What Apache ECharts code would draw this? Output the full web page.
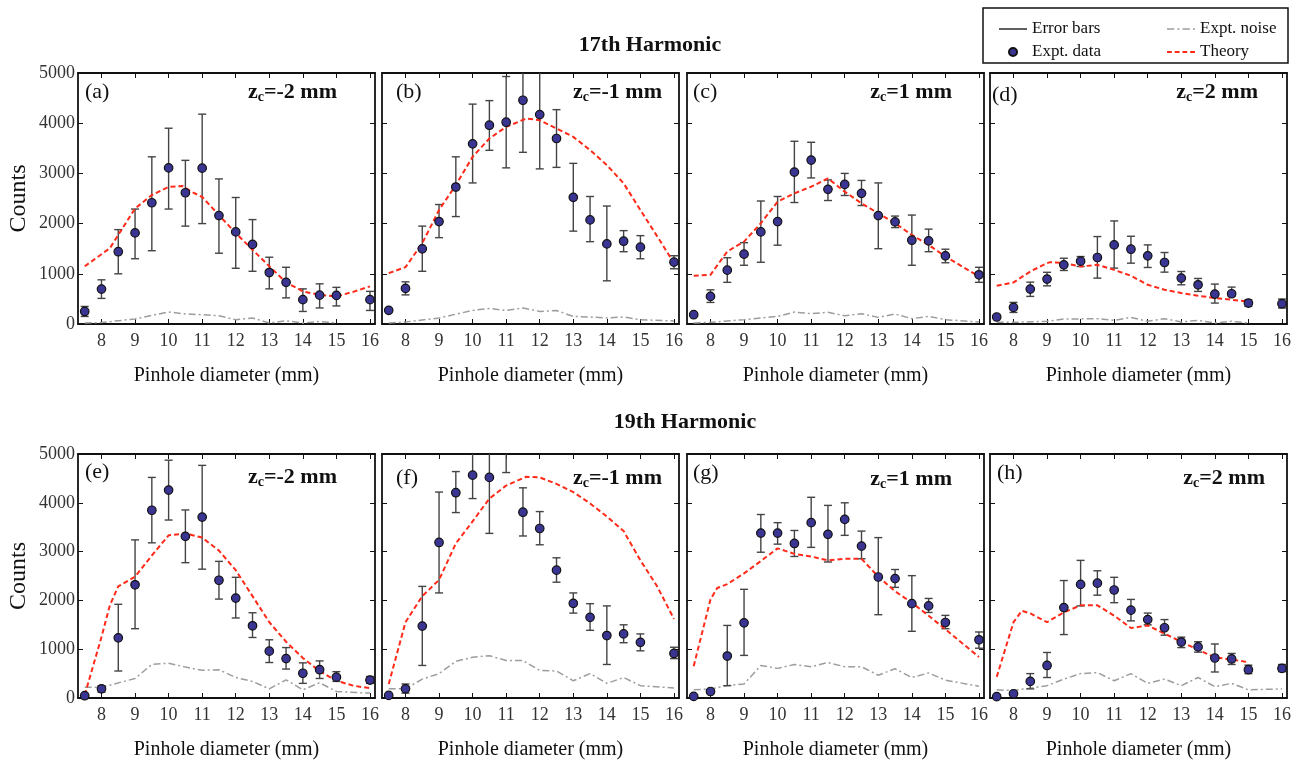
<!DOCTYPE html>
<html>
<head>
<meta charset="utf-8">
<title>Counts vs pinhole diameter, 17th and 19th harmonic</title>
<script src="https://cdn.jsdelivr.net/npm/echarts@6.0.0/dist/echarts.min.js"></script>
<style>
  html, body { margin: 0; padding: 0; background: #fff; }
  #chart { width: 1299px; height: 761px; }
</style>
</head>
<body>
<div id="chart"></div>
<script>
// pinhole diameters (mm) of the measured points
const diameters = [7.5, 8, 8.5, 9, 9.5, 10, 10.5, 11, 11.5, 12, 12.5, 13, 13.5, 14, 14.5, 15, 16];
const xTicks = [8, 9, 10, 11, 12, 13, 14, 15, 16];

// 17th harmonic
const countsA = [250, 695, 1440, 1815, 2415, 3110, 2615, 3105, 2160, 1835, 1585, 1025, 830, 485, 575, 570, 485];
const lowA = [150, 510, 1000, 1300, 1460, 2290, 1950, 2000, 1410, 1110, 1050, 700, 520, 250, 320, 360, 270];
const highA = [350, 880, 1880, 2290, 3330, 3900, 3260, 4180, 2890, 2520, 2080, 1330, 1130, 700, 800, 730, 650];
const theoryA = [[7.5, 1150], [8.25, 1510], [9, 2300], [9.5, 2570], [10, 2730], [10.4, 2750], [10.7, 2630], [11, 2530], [11.5, 2170], [12, 1810], [12.5, 1480], [13, 1150], [13.5, 830], [14, 650], [14.5, 580], [15, 550], [15.5, 640], [16, 750]];
const noiseA = [[7.5, 20], [8, 30], [9, 100], [10, 240], [10.5, 200], [11, 185], [11.5, 165], [12, 85], [12.5, 120], [13, 20], [13.5, 65], [14, 20], [14.5, 50], [15, 20]];

const countsB = [272, 709, 1497, 2040, 2728, 3589, 3960, 4020, 4457, 4172, 3695, 2523, 2073, 1596, 1649, 1530, 1232];
const lowB = [null, 580, 1050, 1720, 2140, 2810, 3460, 3110, 3420, 3090, 3120, 1850, 1640, 860, 1440, 1300, 1100];
const highB = [null, 840, 1950, 2380, 3330, 4380, 4450, 4930, 5200, 5200, 4270, 3200, 2540, 2350, 1860, 1760, 1360];
const theoryB = [[7.5, 1013], [8, 1132], [8.5, 1610], [9, 2271], [9.5, 2768], [10, 3331], [10.5, 3695], [11, 3927], [11.6, 4093], [12, 4060], [12.5, 3894], [13, 3728], [13.5, 3464], [14, 3166], [14.5, 2801], [15, 2271], [15.6, 1642], [16, 1212]];
const noiseB = [[7.5, 20], [8, 40], [9, 120], [10, 270], [10.5, 310], [11, 270], [11.5, 318], [12, 250], [12.5, 270], [13, 150], [13.5, 140], [14, 120], [14.5, 140], [15, 85], [16, 60]];

const countsC = [185, 550, 1073, 1391, 1834, 2040, 3026, 3265, 2682, 2781, 2603, 2159, 2033, 1669, 1656, 1358, 980];
const lowC = [null, 430, 830, 1170, 1230, 1570, 2420, 2910, 2460, 2560, 2360, 1500, 1920, 1170, 1440, 1220, 830];
const highC = [null, 680, 1320, 1620, 2450, 2540, 3640, 3620, 2870, 3000, 2860, 2810, 2150, 2170, 1890, 1490, 1130];
const theoryC = [[7.5, 960], [8, 980], [8.5, 1444], [9, 1642], [9.5, 2007], [10, 2437], [10.5, 2603], [11, 2735], [11.5, 2900], [12, 2636], [12.5, 2404], [13, 2205], [13.5, 2007], [14, 1775], [14.5, 1576], [15, 1344], [16, 947]];
const noiseC = [[7.5, 20], [8, 33], [9, 86], [10, 152], [10.5, 238], [11, 205], [11.5, 232], [12, 165], [12.5, 205], [13, 132], [13.5, 200], [14, 106], [14.5, 152], [15, 86], [16, 40]];

const countsD = [139, 331, 695, 894, 1179, 1252, 1325, 1576, 1490, 1358, 1225, 914, 781, 596, 603, 417, 404];
const lowD = [null, 230, 550, 760, 1066, 1146, 914, 1113, 1212, 1126, 1033, 781, 649, 417, 550, 351, 318];
const highD = [null, 430, 834, 1030, 1310, 1344, 1742, 2053, 1748, 1576, 1424, 1046, 907, 795, 735, 483, 497];
const theoryD = [[7.5, 762], [8, 828], [8.5, 1046], [9, 1212], [9.1, 1232], [9.5, 1212], [10, 1146], [10.5, 1179], [11, 1079], [11.5, 960], [12, 781], [12.5, 682], [13, 616], [13.5, 563], [14, 517], [14.5, 483], [15, 450]];
const noiseD = [[7.5, 33], [8, 33], [9, 53], [9.5, 99], [10.5, 106], [11, 73], [11.5, 132], [12, 53], [12.5, 106], [13, 40], [13.5, 73], [14, 20], [14.5, 53], [15, 20]];

// 19th harmonic
const countsE = [47, 187, 1233, 2320, 3847, 4260, 3313, 3707, 2413, 2047, 1480, 960, 807, 507, 580, 427, 367];
const lowE = [null, 120, 553, 1420, 3180, 3647, 2773, 2640, 2027, 1640, 1240, 727, 593, 300, 400, 340, 300];
const highE = [null, 253, 1920, 3240, 4520, 4873, 3853, 4767, 2800, 2473, 1747, 1193, 1033, 720, 760, 540, 440];
const theoryE = [[7.5, 60], [8, 1250], [8.25, 1900], [8.5, 2287], [9, 2487], [9.5, 2920], [10, 3333], [10.5, 3373], [11, 3287], [11.5, 3020], [12, 2620], [12.5, 2087], [13, 1553], [13.5, 1153], [14, 820], [14.5, 553], [15, 353], [15.5, 253], [16, 200]];
const noiseE = [[7.5, 220], [8, 220], [9, 400], [9.5, 687], [10, 713], [10.5, 633], [11, 567], [11.5, 580], [12, 420], [12.5, 340], [13, 187], [13.5, 373], [14, 167], [14.5, 313], [15, 133], [16, 100]];

const countsF = [53, 187, 1473, 3187, 4207, 4567, 4520, 5250, 3807, 3473, 2620, 1940, 1653, 1280, 1313, 1140, 913];
const lowF = [null, 100, 667, 2153, 3800, 4087, 3373, 4620, 3320, 3140, 2373, 1740, 1387, 687, 1133, 967, 807];
const highF = [null, 287, 2287, 4220, 4640, 5200, 5200, 5900, 4307, 3820, 2873, 2153, 1933, 1887, 1500, 1313, 1040];
const theoryF = [[7.5, 287], [8, 1553], [8.5, 2087], [9, 2420], [9.5, 3167], [10, 3620], [10.5, 4087], [11, 4353], [11.6, 4533], [12, 4520], [12.5, 4387], [13, 4220], [13.5, 3987], [14, 3720], [14.5, 3420], [15, 2820], [15.5, 2287], [16, 1620]];
const noiseF = [[7.5, 187], [8, 187], [8.5, 387], [9, 500], [9.5, 753], [10, 833], [10.5, 867], [11, 767], [11.5, 767], [12, 567], [12.5, 553], [13, 353], [13.5, 500], [14, 300], [14.5, 420], [15, 253], [16, 207]];

const countsG = [33, 133, 860, 1540, 3380, 3380, 3167, 3593, 3353, 3660, 3113, 2480, 2447, 1933, 1887, 1547, 1193];
const lowG = [null, null, 253, 873, 2987, 3153, 2900, 3087, 2787, 3333, 2853, 1707, 2267, 1367, 1753, 1420, 1020];
const highG = [null, null, 1487, 2227, 3760, 3593, 3433, 4113, 3947, 4000, 3420, 3287, 2633, 2507, 2040, 1693, 1353];
const theoryG = [[7.5, 653], [8, 2020], [8.2, 2253], [8.5, 2333], [9, 2553], [9.5, 2807], [10, 3067], [10.5, 2953], [11, 2900], [11.5, 2820], [12, 2853], [12.5, 2853], [13, 2487], [13.5, 2187], [14, 1953], [14.5, 1687], [15, 1407], [16, 840]];
const noiseG = [[7.5, 167], [8, 187], [8.5, 253], [9, 287], [9.5, 667], [10, 607], [10.5, 687], [11, 640], [11.5, 727], [12, 640], [12.5, 640], [13, 467], [13.5, 600], [14, 420], [14.5, 513], [15, 367], [16, 240]];

const countsH = [27, 87, 340, 667, 1853, 2327, 2353, 2213, 1800, 1607, 1440, 1147, 1047, 820, 800, 580, 607];
const lowH = [null, null, 187, 420, 1300, 1887, 2107, 1953, 1580, 1500, 1287, 1033, 940, 533, 687, 500, 540];
const highH = [null, null, 500, 933, 2407, 2820, 2607, 2473, 2020, 1740, 1607, 1247, 1153, 1107, 913, 673, 687];
const theoryH = [[7.5, 433], [8, 1553], [8.25, 1787], [8.5, 1733], [9, 1553], [9.5, 1753], [10, 1900], [10.5, 1900], [11, 1687], [11.5, 1433], [12, 1487], [12.5, 1320], [13, 1153], [13.5, 987], [14, 833], [14.5, 787], [15, 733]];
const noiseH = [[7.5, 167], [8, 153], [9, 253], [9.5, 387], [10, 500], [10.5, 520], [11, 353], [11.5, 500], [12, 300], [12.5, 387], [13, 253], [13.5, 420], [14, 233], [14.5, 300], [15, 167], [16, 187]];

const panelTags = ['(a)', '(b)', '(c)', '(d)', '(e)', '(f)', '(g)', '(h)'];
const zcValues = ['-2', '-1', '1', '2', '-2', '-1', '1', '2'];

const panels = [
  { counts: countsA, low: lowA, high: highA, theory: theoryA, noise: noiseA },
  { counts: countsB, low: lowB, high: highB, theory: theoryB, noise: noiseB },
  { counts: countsC, low: lowC, high: highC, theory: theoryC, noise: noiseC },
  { counts: countsD, low: lowD, high: highD, theory: theoryD, noise: noiseD },
  { counts: countsE, low: lowE, high: highE, theory: theoryE, noise: noiseE },
  { counts: countsF, low: lowF, high: highF, theory: theoryF, noise: noiseF },
  { counts: countsG, low: lowG, high: highG, theory: theoryG, noise: noiseG },
  { counts: countsH, low: lowH, high: highH, theory: theoryH, noise: noiseH }
];

// layout
const SERIF = '"Liberation Serif", "Times New Roman", serif';
const colLeft = [78, 382, 687, 990];
const rowTop = [73, 454];
const plotW = 297;
const plotH = 251;
const tagPos = [[85, 92], [396, 92], [693, 92], [992, 95], [85, 472], [396, 478], [693, 473], [997, 473]];
const zcPos = [[337, 92], [662, 92], [952, 92], [1258, 92], [337, 477], [662, 478], [952, 479], [1265, 478]];

// legend icons drawn as dash patterns
const dashedIcon = 'path://M0,0H5V2H0Z M8,0H13V2H8Z M16,0H21V2H16Z M24,0H29V2H24Z';
const dashDotIcon = 'path://M0,0H7V1.5H0Z M10,0H12V1.5H10Z M15,0H22V1.5H15Z M25,0H27V1.5H25Z';

function renderErrorBar (params, api) {
  const x = api.value(0);
  const lo = api.coord([x, api.value(1)]);
  const hi = api.coord([x, api.value(2)]);
  const cap = 4;
  const style = { stroke: '#444', lineWidth: 1.4 };
  return {
    type: 'group',
    children: [
      { type: 'line', shape: { x1: lo[0], y1: lo[1], x2: hi[0], y2: hi[1] }, style },
      { type: 'line', shape: { x1: lo[0] - cap, y1: lo[1], x2: lo[0] + cap, y2: lo[1] }, style },
      { type: 'line', shape: { x1: hi[0] - cap, y1: hi[1], x2: hi[0] + cap, y2: hi[1] }, style }
    ]
  };
}

const grid = [];
const xAxis = [];
const yAxis = [];
const series = [];
const graphic = [];

const frame = { show: true, onZero: false, lineStyle: { color: '#111', width: 1.8 } };
const tick = { show: true, inside: true, length: 5, lineStyle: { color: '#111', width: 1 } };
const labelFont = { fontFamily: SERIF, fontSize: 18, color: '#333' };

panels.forEach((p, i) => {
  const row = Math.floor(i / 4);
  const col = i % 4;
  grid.push({ left: colLeft[col], top: rowTop[row], width: plotW, height: plotH });

  const xBase = { type: 'value', gridIndex: i, min: 7.3, max: 16.15, splitLine: { show: false }, axisLine: frame };
  xAxis.push(Object.assign({}, xBase, {
    position: 'bottom',
    axisTick: Object.assign({}, tick, { customValues: xTicks }),
    axisLabel: Object.assign({ customValues: xTicks, margin: 8 }, labelFont),
    name: 'Pinhole diameter (mm)',
    nameLocation: 'middle',
    nameGap: 42,
    nameTextStyle: { fontFamily: SERIF, fontSize: 20, color: '#111' }
  }));
  xAxis.push(Object.assign({}, xBase, {
    position: 'top',
    axisTick: Object.assign({}, tick, { customValues: xTicks }),
    axisLabel: { show: false }
  }));

  const yBase = { type: 'value', gridIndex: i, min: 0, max: 5000, interval: 1000, splitLine: { show: false }, axisLine: frame, axisTick: tick };
  yAxis.push(Object.assign({}, yBase, {
    position: 'left',
    axisLabel: Object.assign({ show: col === 0, margin: 3, formatter: v => String(v) }, labelFont),
    name: col === 0 ? 'Counts' : '',
    nameLocation: 'middle',
    nameRotate: 90,
    nameGap: 47,
    nameTextStyle: { fontFamily: SERIF, fontSize: 24, color: '#111' }
  }));
  yAxis.push(Object.assign({}, yBase, { position: 'right', axisLabel: { show: false } }));

  const axes = { xAxisIndex: 2 * i, yAxisIndex: 2 * i };
  const bars = [];
  diameters.forEach((d, k) => {
    if (p.low[k] != null) bars.push([d, p.low[k], p.high[k]]);
  });

  series.push(Object.assign({
    name: 'Expt. noise', type: 'line', data: p.noise, symbol: 'none', silent: true, z: 1,
    lineStyle: { color: '#9d9d9d', width: 1.5, type: [7, 3, 2, 3] }, itemStyle: { color: '#9d9d9d' }
  }, axes));
  series.push(Object.assign({
    name: 'Error bars', type: 'custom', data: bars, renderItem: renderErrorBar, clip: true, silent: true, z: 2,
    encode: { x: 0, y: [1, 2] }, itemStyle: { color: '#555' }
  }, axes));
  series.push(Object.assign({
    name: 'Theory', type: 'line', data: p.theory, symbol: 'none', silent: true, z: 3,
    lineStyle: { color: '#ff2a1a', width: 2, type: [5, 3] }, itemStyle: { color: '#ff2a1a' }
  }, axes));
  series.push(Object.assign({
    name: 'Expt. data', type: 'scatter', data: diameters.map((d, k) => [d, p.counts[k]]), symbolSize: 8.5, silent: true, z: 4,
    itemStyle: { color: '#3a3592', borderColor: '#111', borderWidth: 1.2, opacity: 1 }
  }, axes));

  graphic.push({
    type: 'text', x: tagPos[i][0], y: tagPos[i][1],
    style: { text: panelTags[i], fontFamily: SERIF, fontSize: 22, fill: '#111', align: 'left', verticalAlign: 'middle' }
  });
  graphic.push({
    type: 'text', x: zcPos[i][0], y: zcPos[i][1],
    style: {
      text: '{b|z}{s|c}{b|=' + zcValues[i] + ' mm}',
      align: 'right',
      verticalAlign: 'middle',
      rich: {
        b: { fontFamily: SERIF, fontSize: 22, fontWeight: 'bold', fill: '#111', lineHeight: 24 },
        s: { fontFamily: SERIF, fontSize: 14, fontWeight: 'bold', fill: '#111', lineHeight: 14, verticalAlign: 'bottom' }
      }
    }
  });
});

graphic.push(
  { type: 'text', x: 650, y: 45, style: { text: '17th Harmonic', fontFamily: SERIF, fontSize: 22, fontWeight: 'bold', fill: '#111', align: 'center', verticalAlign: 'middle' } },
  { type: 'text', x: 685, y: 422, style: { text: '19th Harmonic', fontFamily: SERIF, fontSize: 22, fontWeight: 'bold', fill: '#111', align: 'center', verticalAlign: 'middle' } },
  { type: 'rect', shape: { x: 983, y: 8, width: 305, height: 55 }, style: { fill: 'none', stroke: '#111', lineWidth: 1.5 } }
);

const legendText = { fontFamily: SERIF, fontSize: 17, color: '#111', lineHeight: 20 };

const chart = echarts.init(document.getElementById('chart'), null, { renderer: 'canvas' });
chart.setOption({
  animation: false,
  backgroundColor: '#fff',
  legend: [
    {
      orient: 'vertical', left: 994, top: 14, itemWidth: 28, itemHeight: 8, itemGap: 3,
      selectedMode: false, textStyle: legendText,
      data: [{ name: 'Error bars', icon: 'path://M0,0H30V2H0Z' }, { name: 'Expt. data', icon: 'circle' }]
    },
    {
      orient: 'vertical', left: 1162, top: 14, itemWidth: 28, itemHeight: 8, itemGap: 3,
      selectedMode: false, textStyle: legendText,
      data: [{ name: 'Expt. noise', icon: dashDotIcon }, { name: 'Theory', icon: dashedIcon }]
    }
  ],
  grid,
  xAxis,
  yAxis,
  series,
  graphic
});
</script>
</body>
</html>
